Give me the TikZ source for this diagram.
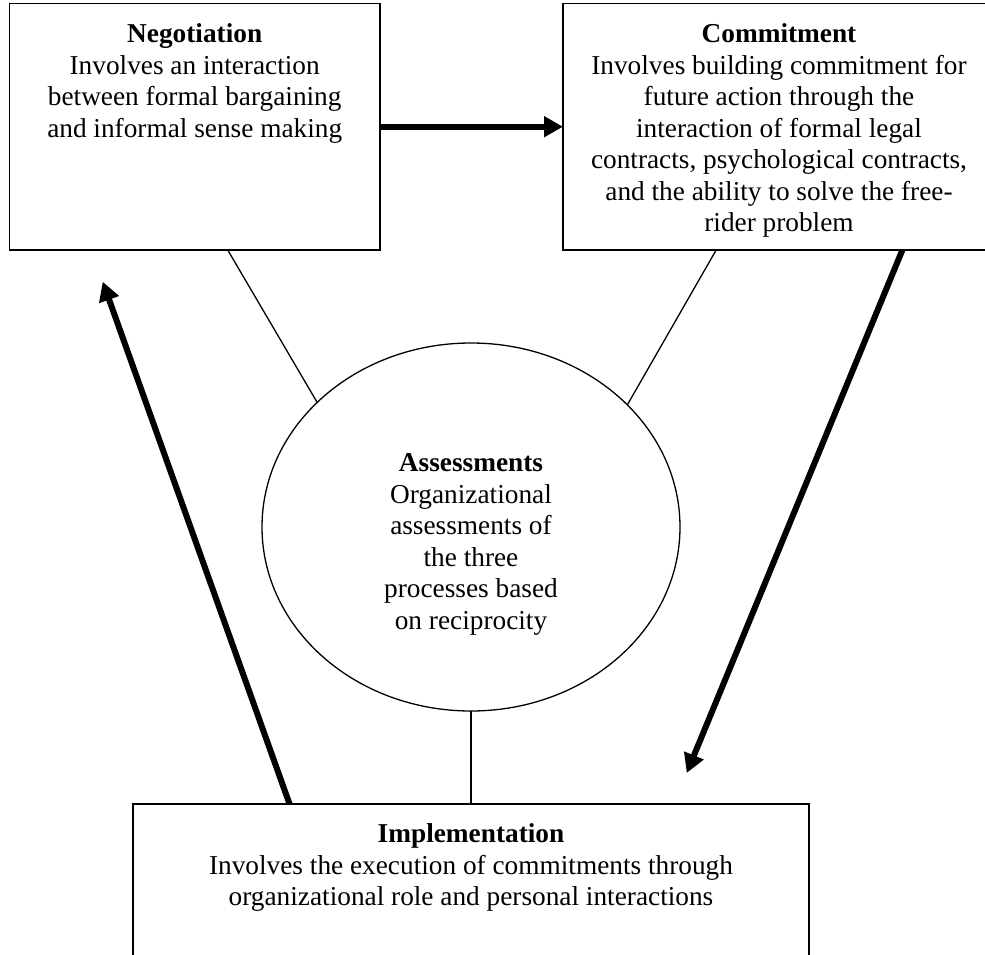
\documentclass[tikz,border=0pt]{standalone}
\usepackage{fontspec}
\setmainfont{Liberation Serif}
\usetikzlibrary{arrows.meta,shapes.geometric}
\begin{document}
\begin{tikzpicture}[x=1bp,y=-1bp,
  boxnode/.style={draw, line width=1.6bp, rectangle, inner sep=0pt, outer sep=0pt},
  ellnode/.style={draw, line width=1.3bp, ellipse, inner sep=0pt, outer sep=0pt, minimum width=418bp, minimum height=368bp},
  txtnode/.style={anchor=base, inner sep=0pt, font=\fontsize{27.4pt}{31.6pt}\selectfont},
  linkline/.style={line width=1.3bp},
  flowarrow/.style={line width=6bp, -{Triangle[length=19bp,width=20bp]}}
]
\useasboundingbox (0,0) rectangle (985,955);
\clip (0,0) rectangle (985,955);
\fill[white] (0,0) rectangle (985,955);

\node[boxnode, minimum width=370.6bp, minimum height=246.7bp] (neg) at (194.7,126.7) {};
\node[boxnode, minimum width=432bp, minimum height=246.7bp] (com) at (779,126.7) {};
\node[boxnode, minimum width=676bp, minimum height=154bp] (impl) at (471,881) {};
\node[ellnode] (ell) at (471,527) {};

\node[txtnode] (negt) at (194.7,42.7) {\begin{tabular}[t]{@{}c@{}}\textbf{Negotiation}\\Involves an interaction\\between formal bargaining\\and informal sense making\end{tabular}};
\node[txtnode] (comt) at (779,42.7) {\begin{tabular}[t]{@{}c@{}}\textbf{Commitment}\\Involves building commitment for\\future action through the\\interaction of formal legal\\contracts, psychological contracts,\\and the ability to solve the free-\\rider problem\end{tabular}};
\node[txtnode] (ellt) at (471,471.7) {\begin{tabular}[t]{@{}c@{}}\textbf{Assessments}\\Organizational\\assessments of\\the three\\processes based\\on reciprocity\end{tabular}};
\node[txtnode] (implt) at (471,842.7) {\begin{tabular}[t]{@{}c@{}}\textbf{Implementation}\\Involves the execution of commitments through\\organizational role and personal interactions\end{tabular}};

\coordinate (tipR) at (686.7,773);
\coordinate (tipL) at (102.7,281.7);

\draw[flowarrow] (neg.east) -- (com.west);
\draw[flowarrow] (com.-45.54) -- (tipR);
\draw[flowarrow] (impl.157.32) -- (tipL);
\draw[linkline] (neg.-75.89) -- (ell.141.21);
\draw[linkline] (com.-117.06) -- (ell.38.71);
\draw[linkline] (ell.south) -- (impl.north);
\end{tikzpicture}
\end{document}
